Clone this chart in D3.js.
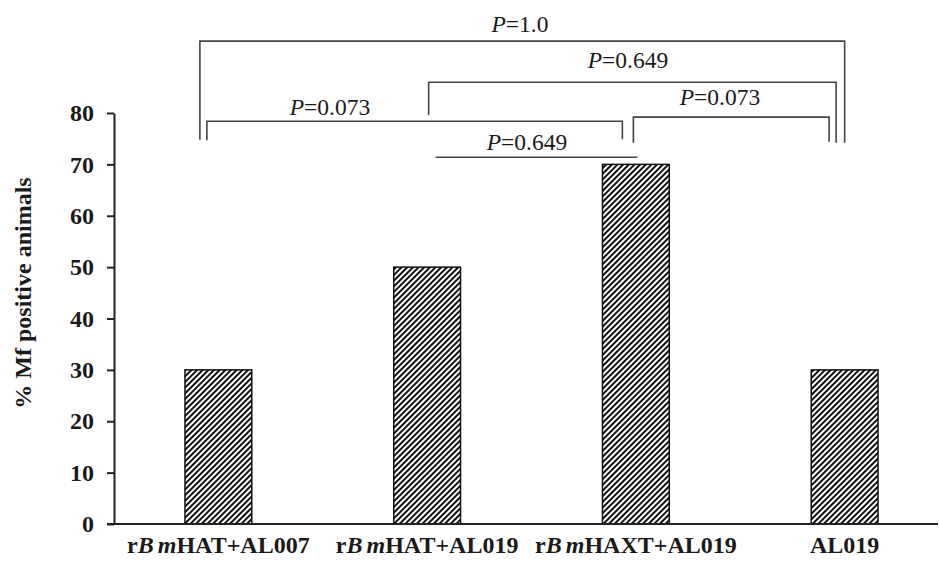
<!DOCTYPE html>
<html>
<head>
<meta charset="utf-8">
<script src="https://cdn.jsdelivr.net/npm/d3@7"></script>
<style>
  body { margin: 0; background: #fff; }
  svg { display: block; }
  text { font-family: "Liberation Serif", "Times New Roman", serif; fill: #1a1a1a; }
</style>
</head>
<body>
<div id="chart"></div>
<script>
// groups on the x axis (prefix, italic part, suffix)
const groups = ["rBmHAT+AL007", "rBmHAT+AL019", "rBmHAXT+AL019", "AL019"];
const labelParts = [
    ["r", "Bm", "HAT+AL007"],
    ["r", "Bm", "HAT+AL019"],
    ["r", "Bm", "HAXT+AL019"],
    ["", "", "AL019"]
];
// % Mf positive animals
const mfPositive = [30, 50, 70, 30];
const yTicks = [0, 10, 20, 30, 40, 50, 60, 70, 80];

// pairwise comparisons between groups
const comparisons = [
    {from: 0, to: 3, p: "1.0"},
    {from: 1, to: 3, p: "0.649"},
    {from: 2, to: 3, p: "0.073"},
    {from: 0, to: 2, p: "0.073"},
    {from: 1, to: 2, p: "0.649"}
];

const width = 939, height = 564;

const svg = d3.select("#chart").append("svg")
    .attr("width", width)
    .attr("height", height);

// hatch pattern
const defs = svg.append("defs");
defs.append("pattern")
    .attr("id", "hatch")
    .attr("patternUnits", "userSpaceOnUse")
    .attr("width", 4)
    .attr("height", 4)
    .attr("patternTransform", "rotate(45)")
  .append("rect")
    .attr("x", 0).attr("y", 0)
    .attr("width", 2).attr("height", 4)
    .attr("fill", "#111");

const x = d3.scaleBand()
    .domain(groups)
    .range([114, 949])
    .paddingInner(0.68)
    .paddingOuter(0.34);

const y = d3.scaleLinear()
    .domain([0, 80])
    .range([524, 113]);

// bars
svg.selectAll(".bar")
    .data(groups)
    .join("rect")
    .attr("class", "bar")
    .attr("x", d => x(d))
    .attr("y", (d, i) => y(mfPositive[i]))
    .attr("width", x.bandwidth())
    .attr("height", (d, i) => y(0) - y(mfPositive[i]))
    .attr("fill", "url(#hatch)")
    .attr("stroke", "#111")
    .attr("stroke-width", 1.5);

// y axis
const yAxisG = svg.append("g")
    .attr("transform", "translate(114,0)")
    .call(d3.axisLeft(y).tickValues(yTicks).tickSize(7).tickPadding(13).tickSizeOuter(0));
yAxisG.select(".domain").attr("stroke", "#222").attr("stroke-width", 2);
yAxisG.selectAll(".tick line").attr("stroke", "#222").attr("stroke-width", 2);
yAxisG.selectAll(".tick text")
    .style("font-family", "'Liberation Serif', serif")
    .style("font-size", "24px")
    .style("font-weight", "bold")
    .attr("fill", "#1a1a1a");

// x axis
const xAxisG = svg.append("g")
    .attr("transform", "translate(0,524)")
    .call(d3.axisBottom(x).tickSize(0).tickPadding(12));
xAxisG.select(".domain")
    .attr("d", "M107,0H938")
    .attr("stroke", "#222").attr("stroke-width", 2);
xAxisG.selectAll(".tick text")
    .text(null)
    .style("font-family", "'Liberation Serif', serif")
    .style("font-size", "24px")
    .style("font-weight", "bold")
    .attr("fill", "#1a1a1a")
    .each(function(d, i){
        const t = d3.select(this);
        const parts = labelParts[i];
        if (parts[0]) t.append("tspan").text(parts[0]);
        if (parts[1]) {
            t.append("tspan").style("font-style", "italic").text(parts[1][0]);
            t.append("tspan").attr("dx", 4).style("font-style", "italic").text(parts[1].slice(1));
        }
        t.append("tspan").text(parts[2]);
    });

// y axis title
svg.append("text")
    .attr("transform", "translate(31,293) rotate(-90)")
    .attr("text-anchor", "middle")
    .style("font-size", "24px")
    .style("font-weight", "bold")
    .text("% Mf positive animals");

// significance brackets: offsets from bar centres, heights in y units
const bracketLayout = [
    {top: 94.0, dx0: -18.5, dx1: 0,    bot0: 74.8, bot1: 74.2, labelX: 520, labelY: 95.7},
    {top: 86.0, dx0: 1.5,   dx1: -8.5, bot0: 79.6, bot1: 74.2, labelX: 628, labelY: 88.8},
    {top: 79.2, dx0: -2.5,  dx1: -15.5, bot0: 74.2, bot1: 74.4, labelX: 720, labelY: 81.5},
    {top: 78.4, dx0: -11.5, dx1: -13.5, bot0: 74.7, bot1: 74.9, labelX: 330, labelY: 79.6},
    {top: 71.4, dx0: 8.5,   dx1: 1.5,  bot0: null, bot1: null, labelX: 527, labelY: 72.8}
];

const cx = i => x(groups[i]) + x.bandwidth() / 2;

const brG = svg.append("g").attr("class", "brackets");
comparisons.forEach((c, k) => {
    const b = bracketLayout[k];
    const x0 = cx(c.from) + b.dx0;
    const x1 = cx(c.to) + b.dx1;
    let path;
    if (b.bot0 === null) {
        path = `M${x0},${y(b.top)}H${x1}`;
    } else {
        path = `M${x0},${y(b.bot0)}V${y(b.top)}H${x1}V${y(b.bot1)}`;
    }
    brG.append("path")
        .attr("d", path)
        .attr("fill", "none")
        .attr("stroke", "#444")
        .attr("stroke-width", 1.6);

    const t = brG.append("text")
        .attr("x", b.labelX)
        .attr("y", y(b.labelY))
        .attr("text-anchor", "middle")
        .style("font-size", "23.5px");
    t.append("tspan").style("font-style", "italic").text("P");
    t.append("tspan").text("=" + c.p);
});
</script>
</body>
</html>
